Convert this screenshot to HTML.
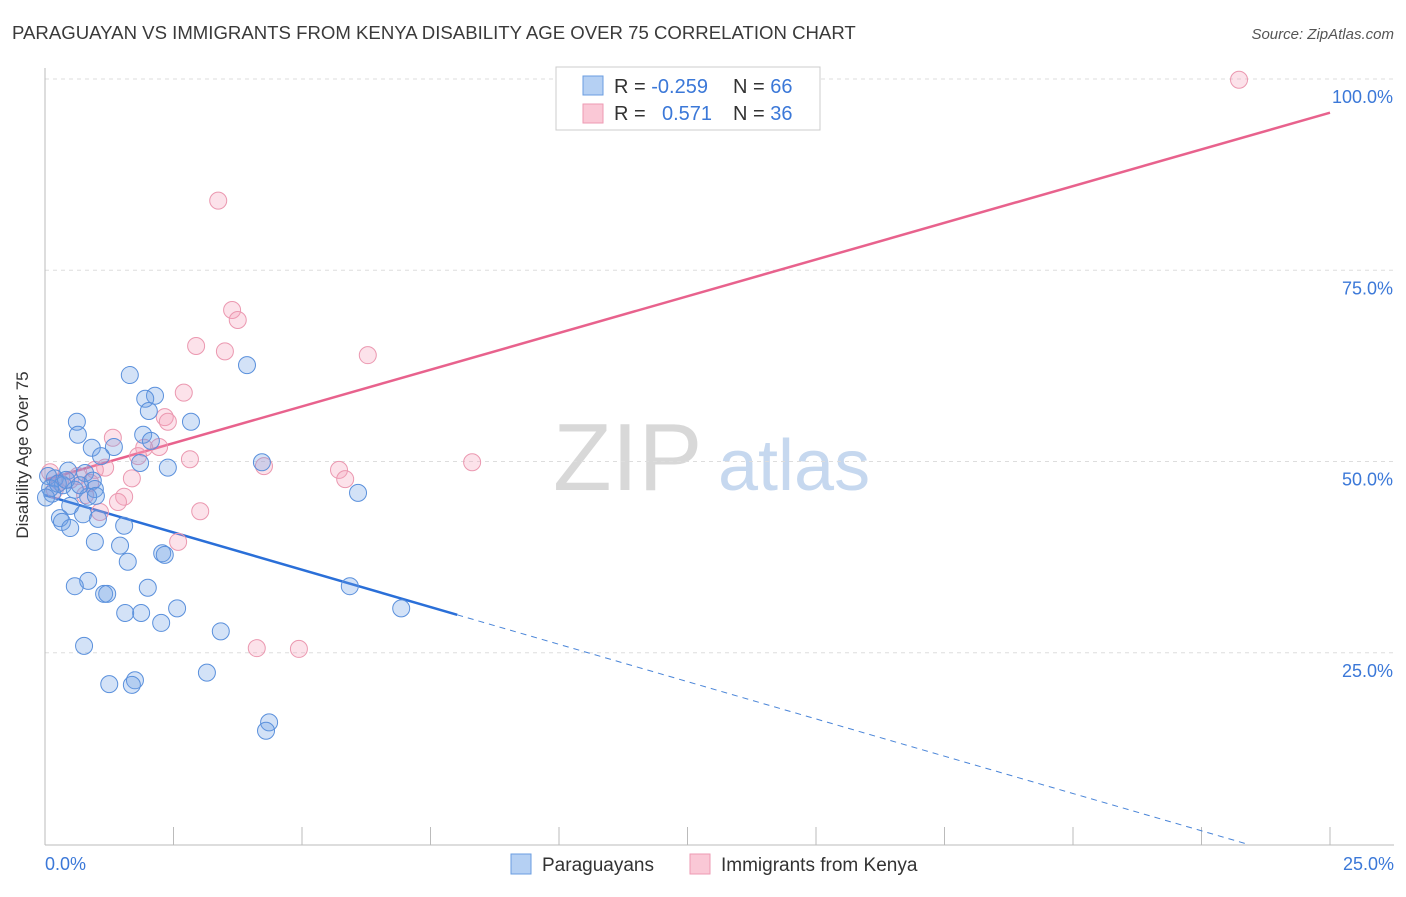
<!DOCTYPE html>
<html><head><meta charset="utf-8"><style>
body{margin:0;background:#fff;font-family:"Liberation Sans",sans-serif}
svg text{font-family:"Liberation Sans",sans-serif}
</style></head><body>
<svg width="1406" height="892" viewBox="0 0 1406 892">
<text x="12" y="39" font-size="18.6" fill="#3a3a3a">PARAGUAYAN VS IMMIGRANTS FROM KENYA DISABILITY AGE OVER 75 CORRELATION CHART</text>
<text x="1394" y="39" font-size="15" fill="#555" font-style="italic" text-anchor="end">Source: ZipAtlas.com</text>
<g><text x="553" y="490" font-size="96" font-family="Liberation Serif" fill="#d8d8d8">ZIP</text><text x="718" y="490" font-size="72" fill="#c6d8ef">atlas</text></g>
<g id="grid"></g><g id="axes"></g><g id="lines"></g><g id="pts"></g>
<text x="28" y="455" font-size="17" fill="#333" text-anchor="middle" transform="rotate(-90 28 455)">Disability Age Over 75</text>
<text x="45" y="870" font-size="18" fill="#3b78d8">0.0%</text>
<text x="1394" y="870" font-size="18" fill="#3b78d8" text-anchor="end">25.0%</text>
<g>
<rect x="556" y="67" width="264" height="63" fill="#fff" stroke="#ccc"/>
<rect x="583" y="76" width="20" height="19" fill="#b5d0f3" stroke="#6a9de0"/>
<rect x="583" y="104" width="20" height="19" fill="#fac8d6" stroke="#ee9ab3"/>
<text x="614" y="93" font-size="20" fill="#333">R = <tspan fill="#3b78d8">-0.259</tspan></text>
<text x="733" y="93" font-size="20" fill="#333">N = <tspan fill="#3b78d8">66</tspan></text>
<text x="614" y="120" font-size="20" fill="#333">R = <tspan fill="#3b78d8" x="662">0.571</tspan></text>
<text x="733" y="120" font-size="20" fill="#333">N = <tspan fill="#3b78d8">36</tspan></text>
</g>
<g>
<rect x="511" y="854" width="20" height="20" fill="#b5d0f3" stroke="#6a9de0"/>
<text x="542" y="871" font-size="19" fill="#333">Paraguayans</text>
<rect x="690" y="854" width="20" height="20" fill="#fac8d6" stroke="#ee9ab3"/>
<text x="721" y="871" font-size="19" fill="#333">Immigrants from Kenya</text>
</g>
</svg>
<script>
const yTicks=[25,50,75,100];
const yTickLabels=["25.0%","50.0%","75.0%","100.0%"];
const xTicks=[0,2.5,5,7.5,10,12.5,15,17.5,20,22.5,25];
const blueX=[1.65,3.93,2.14,1.95,2.02,0.62,2.84,0.64,1.91,2.06,0.91,1.34,1.09,1.85,2.39,4.22,0.45,0.78,0.19,0.06,0.93,0.35,0.58,0.97,0.14,0.84,0.99,6.09,0.49,0.74,0.29,0.33,0.49,1.03,1.54,0.97,1.46,2.28,2.33,1.61,0.84,0.58,2.0,5.93,1.15,1.21,2.57,1.87,1.56,6.93,2.26,3.42,0.76,3.15,1.25,1.75,1.69,4.36,4.30,0.1,0.25,0.41,0.68,0.02];
const blueY=[61.3,62.6,58.6,58.2,56.6,55.2,55.2,53.5,53.5,52.7,51.8,51.9,50.7,49.8,49.2,49.9,48.8,48.5,47.8,48.1,47.5,46.9,46.3,46.4,45.8,45.4,45.5,45.9,44.2,43.1,42.6,42.1,41.3,42.5,41.6,39.5,39.0,38.0,37.8,36.9,34.4,33.7,33.5,33.7,32.7,32.7,30.8,30.2,30.2,30.8,28.9,27.8,25.9,22.4,20.9,21.4,20.8,15.9,14.8,46.5,47.1,47.6,46.9,45.3];
const pinkX=[23.23,3.37,3.64,3.75,2.94,3.50,6.28,2.70,2.33,2.39,1.32,1.93,2.22,1.81,2.82,8.31,4.26,5.72,5.84,1.17,0.97,1.69,0.1,0.49,0.78,1.54,1.42,1.07,3.02,2.59,4.12,4.94,0.29,0.64,0.19,0.88];
const pinkY=[99.9,84.1,69.8,68.5,65.1,64.4,63.9,59.0,55.8,55.2,53.1,51.8,51.9,50.7,50.3,49.9,49.4,48.9,47.7,49.2,48.9,47.8,48.6,47.6,45.6,45.4,44.7,43.4,43.5,39.5,25.6,25.5,47.3,48.1,46.3,47.2];
const blueTrend=[45.6,-1.95];
const pinkTrend=[47.6,1.92];
const sx=v=>45+v*51.4, sy=v=>844-v*7.65;
const NS="http://www.w3.org/2000/svg";
function mk(p,t,a){const e=document.createElementNS(NS,t);for(const k in a)e.setAttribute(k,a[k]);document.getElementById(p).appendChild(e);return e;}
yTicks.forEach((t,i)=>{
 const g=mk('grid','line',{x1:45,x2:1394,y1:sy(t),y2:sy(t),stroke:'#ddd','stroke-dasharray':'4,4'});
 
 
 const l=mk('grid','text',{x:1393,y:sy(t)+24,'font-size':18,fill:'#3b78d8','text-anchor':'end'});
 l.textContent=yTickLabels[i];
 
 
});
const ax=mk('axes','line',{x1:45,x2:45,y1:68,y2:845,stroke:'#bbb'});


const bx=mk('axes','line',{x1:45,x2:1394,y1:845,y2:845,stroke:'#bbb'});


xTicks.forEach(t=>{
 const e=mk('axes','line',{x1:sx(t),x2:sx(t),y1:827,y2:845,stroke:'#bbb'});
 
 
});
function circles(xs,ys,fill,stroke,name){xs.forEach((x,i)=>{
 const c=mk('pts','circle',{cx:sx(x),cy:sy(ys[i]),r:8.5,fill:fill,stroke:stroke,'stroke-width':1});
 
 
});}
circles(pinkX,pinkY,'rgba(245,160,185,0.3)','#eb98b0','kenya-point');
circles(blueX,blueY,'rgba(110,160,230,0.3)','#5a90dc','paraguayan-point');
const bEnd=8.02, bZero=-blueTrend[0]/blueTrend[1];
const b1=mk('lines','line',{x1:sx(0),y1:sy(blueTrend[0]),x2:sx(bEnd),y2:sy(blueTrend[0]+blueTrend[1]*bEnd),stroke:'#2a6fd8','stroke-width':2.5});


const b2=mk('lines','line',{x1:sx(bEnd),y1:sy(blueTrend[0]+blueTrend[1]*bEnd),x2:sx(bZero),y2:sy(0),stroke:'#4a85d8','stroke-width':1,'stroke-dasharray':'6,5'});


const p1=mk('lines','line',{x1:sx(0),y1:sy(pinkTrend[0]),x2:sx(25),y2:sy(pinkTrend[0]+pinkTrend[1]*25),stroke:'#e8628d','stroke-width':2.5});


</script>
</body></html>
